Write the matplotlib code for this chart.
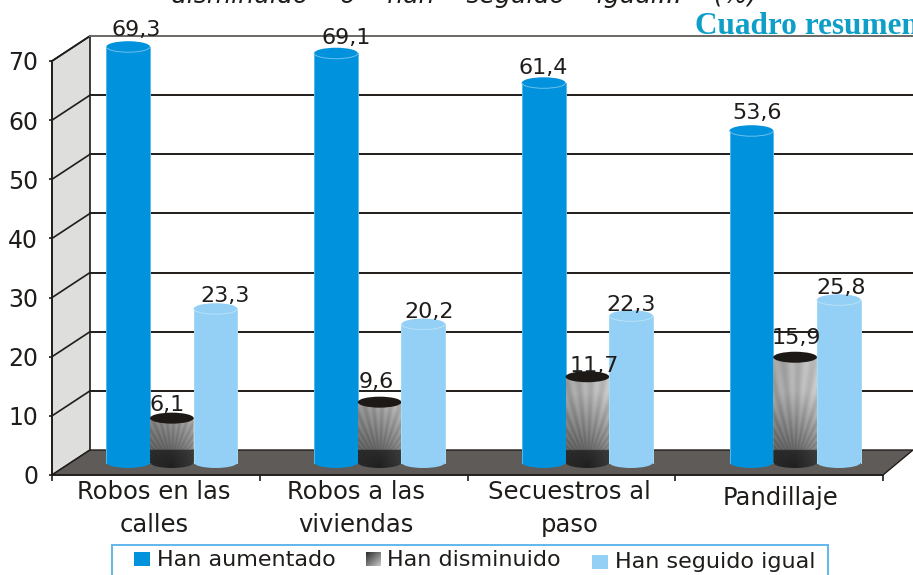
import numpy as np
import matplotlib
matplotlib.use("Agg")
import matplotlib.pyplot as plt
import matplotlib.patches as patches

categories = ["Robos en las\ncalles", "Robos a las\nviviendas", "Secuestros al\npaso", "Pandillaje"]
series_names = ["Han aumentado", "Han disminuido", "Han seguido igual"]

# numbers printed over the bars
aumentado = [69.3, 69.1, 61.4, 53.6]
disminuido = [6.1, 9.6, 11.7, 15.9]
igual = [23.3, 20.2, 22.3, 25.8]

# drawn heights as read against the axis, the picture does not follow the printed numbers
alto_aumentado = [70.3, 69.2, 64.2, 56.1]
alto_disminuido = [7.5, 10.2, 14.5, 17.8]
alto_igual = [26.0, 23.4, 24.8, 27.5]

yticks = [0, 10, 20, 30, 40, 50, 60, 70]

W, H = 913, 575
fig = plt.figure(figsize=(W / 100, H / 100), dpi=100)
fig.patch.set_facecolor("white")

# axes box is the front of the 3d frame, in pixels
left, right, top, bottom = 52, 883, 61, 475
ax = fig.add_axes([left / W, 1 - bottom / H, (right - left) / W, (bottom - top) / H])
ax.set_xlim(0, 4)
ax.set_ylim(0, 70)
ax.patch.set_visible(False)

px_x = (right - left) / 4
px_y = (bottom - top) / 70
back_x = 38 / px_x
back_x_right = 30 / px_x
back_y = 25 / px_y

INK = "#1f1c1a"
BLUE = "#0092dc"
LIGHT = "#94d0f5"

# wall and floor
ax.add_patch(patches.Polygon([(0, 0), (back_x, back_y), (back_x, 70 + back_y), (0, 70)],
                             facecolor="#dededc", edgecolor=INK, lw=1.2, clip_on=False, zorder=1))
ax.add_patch(patches.Polygon([(0, 0), (back_x, back_y), (4 + back_x_right, back_y), (4, 0)],
                             facecolor="#5f5b59", edgecolor=INK, lw=1.0, clip_on=False, zorder=1))

for t in yticks[1:]:
    c = "#6b6765" if t == 70 else INK
    ax.plot([0, back_x], [t, t + back_y], color=INK, lw=1.2, clip_on=False, zorder=2)
    ax.plot([back_x, 4.2], [t + back_y, t + back_y], color=c, lw=1.4, clip_on=False, zorder=2)

bar_w = 43.7 / px_x
base = 12.5 / px_y
ell_h = 11 / px_y
center_shift = 16 / px_x


def fan_image(cx, h):
    # black and white fan that the dark bars are filled with
    xs = np.linspace(cx - bar_w / 2, cx + bar_w / 2, 90)
    ys = np.linspace(base - ell_h / 2, base + h + ell_h / 2, max(int((h + ell_h) * px_y * 2), 10))
    xx, yy = np.meshgrid(xs, ys)
    dx = (xx - cx) * px_x
    dy = (yy - base) * px_y + 4
    r = np.hypot(dx, dy)
    ang = np.arctan2(dy, dx)
    v = 0.2 + 0.42 * np.clip(r / 75, 0, 1) ** 0.8 + 0.14 * (dx + 22) / 44
    v = v + 0.04 * np.sin(ang * 44) * np.clip(r / 30, 0.2, 1)
    v = np.where(yy < back_y, v * 0.45, v)
    return np.clip(v, 0, 1), [xs[0], xs[-1], ys[0], ys[-1]]


def cylinder(cx, h, color, z):
    edge = "#5cb8ea" if color == BLUE else "#a8daf7"
    body = patches.Rectangle((cx - bar_w / 2, base), bar_w, h, facecolor=color, edgecolor="none",
                             zorder=z, clip_on=False)
    foot = patches.Ellipse((cx, base), bar_w, ell_h, facecolor=color, edgecolor="none", zorder=z, clip_on=False)
    ax.add_patch(foot)
    ax.add_patch(body)
    cap = patches.Ellipse((cx, base + h), bar_w, ell_h, facecolor=color, edgecolor="none",
                          zorder=z + 0.1, clip_on=False)
    ax.add_patch(cap)
    ax.add_patch(patches.Arc((cx, base + h), bar_w, ell_h, theta1=180, theta2=360,
                             edgecolor="#6cc0ee" if color == BLUE else "#b8e1f9", lw=0.7,
                             zorder=z + 0.2, clip_on=False))
    ax.plot([cx - bar_w / 2] * 2, [base, base + h], color=edge, lw=0.7, zorder=z + 0.1, clip_on=False)
    ax.plot([cx + bar_w / 2] * 2, [base, base + h], color=edge, lw=0.7, zorder=z + 0.1, clip_on=False)


def cylinder_dark(cx, h, z):
    img, ext = fan_image(cx, h)
    im = ax.imshow(img, cmap="gray", vmin=0, vmax=1, extent=ext, origin="lower", aspect="auto",
                   interpolation="bilinear", zorder=z)
    # clip to body + foot
    pts = []
    for a in np.linspace(180, 360, 30):
        pts.append((cx + bar_w / 2 * np.cos(np.radians(a)), base + ell_h / 2 * np.sin(np.radians(a))))
    pts.append((cx + bar_w / 2, base + h))
    pts.append((cx - bar_w / 2, base + h))
    clip = patches.Polygon(pts, transform=ax.transData, facecolor="none", edgecolor="none")
    ax.add_patch(clip)
    im.set_clip_path(clip)
    ax.add_patch(patches.Ellipse((cx, base + h), bar_w, ell_h, facecolor="#1c1916", edgecolor="none", zorder=z + 0.1))


for i in range(4):
    mid = i + 0.5 + center_shift
    cylinder(mid - bar_w, alto_aumentado[i], BLUE, 4)
    cylinder_dark(mid, alto_disminuido[i], 5)
    cylinder(mid + bar_w, alto_igual[i], LIGHT, 6)

ax.set_xlim(0, 4)
ax.set_ylim(0, 70)

# printed numbers, offsets in pixels from the top of each bar
off_aum = [(8, 17), (10, 15), (0, 15), (6, 18)]
off_dis = [(-5, 13), (-3, 20), (7, 11), (1, 19)]
off_igu = [(9, 13), (6, 12), (0, 11), (2, 12)]

for i in range(4):
    mid = i + 0.5 + center_shift
    for val, alto, shift, off in [(aumentado[i], alto_aumentado[i], -bar_w, off_aum[i]),
                                  (disminuido[i], alto_disminuido[i], 0, off_dis[i]),
                                  (igual[i], alto_igual[i], bar_w, off_igu[i])]:
        ax.annotate(f"{val:.1f}".replace(".", ","), (mid + shift, base + alto),
                    xytext=(off[0] * 0.72, off[1] * 0.72), textcoords="offset points",
                    ha="center", va="center", fontsize=16, color=INK, zorder=20, annotation_clip=False)

# axes
for s in ["top", "right"]:
    ax.spines[s].set_visible(False)
ax.spines["left"].set_color(INK)
ax.spines["bottom"].set_color(INK)
ax.spines["left"].set_linewidth(1.2)
ax.spines["bottom"].set_linewidth(1.2)
ax.spines["left"].set_zorder(3)
ax.spines["bottom"].set_zorder(3)
ax.set_yticks(yticks)
ax.set_xticks(range(5))
ax.set_xticklabels([])
ax.tick_params(axis="y", length=2, width=1.2, color=INK, pad=8, labelsize=17, labelcolor=INK)
ax.tick_params(axis="x", length=4.5, width=1.2, color=INK)

cat_dx = [-2, -8, -2, 1]
cat_dy = [5, 5, 5, 11]
for i, name in enumerate(categories):
    ax.annotate(name, (i + 0.5, 0), xytext=(cat_dx[i] * 0.72, -cat_dy[i] * 0.72), textcoords="offset points",
                ha="center", va="top", fontsize=17.5, color=INK, linespacing=1.45, annotation_clip=False)

# overlay in pixel coordinates for title bits and legend
ov = fig.add_axes([0, 0, 1, 1])
ov.set_xlim(0, W)
ov.set_ylim(H, 0)
ov.axis("off")
ov.patch.set_visible(False)

ov.text(171, 3, "disminuido    o    han    seguido    igual...    (%)", fontsize=18, style="italic",
        color=INK, ha="left", va="baseline")
ov.text(695, 34, "Cuadro resumen", fontsize=22.5, fontweight="bold", family=["Liberation Serif", "DejaVu Serif"],
        color="#0e9fc9", ha="left", va="baseline")

ov.add_patch(patches.Rectangle((112, 545), 716, 40, facecolor="white", edgecolor="#62b6ea", lw=1.4, clip_on=True))
ov.add_patch(patches.Rectangle((134, 552), 16, 14, facecolor=BLUE, edgecolor="none"))
grad = np.add.outer(np.linspace(0, 1, 20), np.linspace(0, 1, 20)) / 2
ov.imshow(0.18 + 0.6 * grad, cmap="gray", vmin=0, vmax=1, extent=[366, 381, 566, 552], aspect="auto", zorder=2)
ov.set_xlim(0, W)
ov.set_ylim(H, 0)
ov.add_patch(patches.Rectangle((592, 555), 16, 14, facecolor=LIGHT, edgecolor="none"))
for x, y, t in zip([157, 387, 615], [560, 560, 562], series_names):
    ov.text(x, y, t, fontsize=16, color=INK, ha="left", va="center")

fig.savefig("out.png", dpi=100)
